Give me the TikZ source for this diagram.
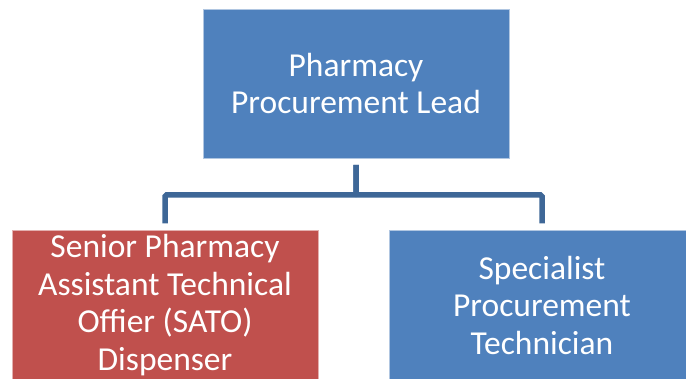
\documentclass[tikz,border=0pt]{standalone}
\usepackage{fontspec}
\setmainfont{Carlito}
\usepackage{tikz}
\usetikzlibrary{positioning}
\definecolor{azulcaja}{HTML}{4F81BD}
\definecolor{rojocaja}{HTML}{C0504D}
\definecolor{azullinea}{HTML}{3E6797}
\tikzset{
  caja/.style={rectangle, fill=azulcaja, draw=white!55!azulcaja, line width=0.8pt,
    minimum width=306pt, minimum height=149pt, inner sep=0pt, outer ysep=7pt,
    text=white, align=center, text width=300pt,
    font=\fontsize{33.5}{37.5}\selectfont,
    execute at begin node={\spaceskip=0.226em\relax}},
  conector/.style={draw=azullinea, line width=5.5pt, rounded corners=1.5pt}
}
\begin{document}
\begin{tikzpicture}[x=1pt,y=-1pt]
  % Marco del dibujo
  \path[use as bounding box, clip] (0,0) rectangle (686,379);
  % Cajas
  \node[caja] (lead) at (356,83.5) {Pharmacy\\Procurement Lead};
  \node[caja, fill=rojocaja, draw=white!55!rojocaja] (sato) at (165,305) {Senior Pharmacy\\Assistant Technical\\Offier (SATO)\\Dispenser};
  \node[caja] (spec) at (542,305) {Specialist\\Procurement\\Technician};
  % Conectores
  \draw[conector] (lead.south) -- ++(0,30) -| (sato.north);
  \draw[conector] (lead.south) -- ++(0,30) -| (spec.north);
\end{tikzpicture}
\end{document}
